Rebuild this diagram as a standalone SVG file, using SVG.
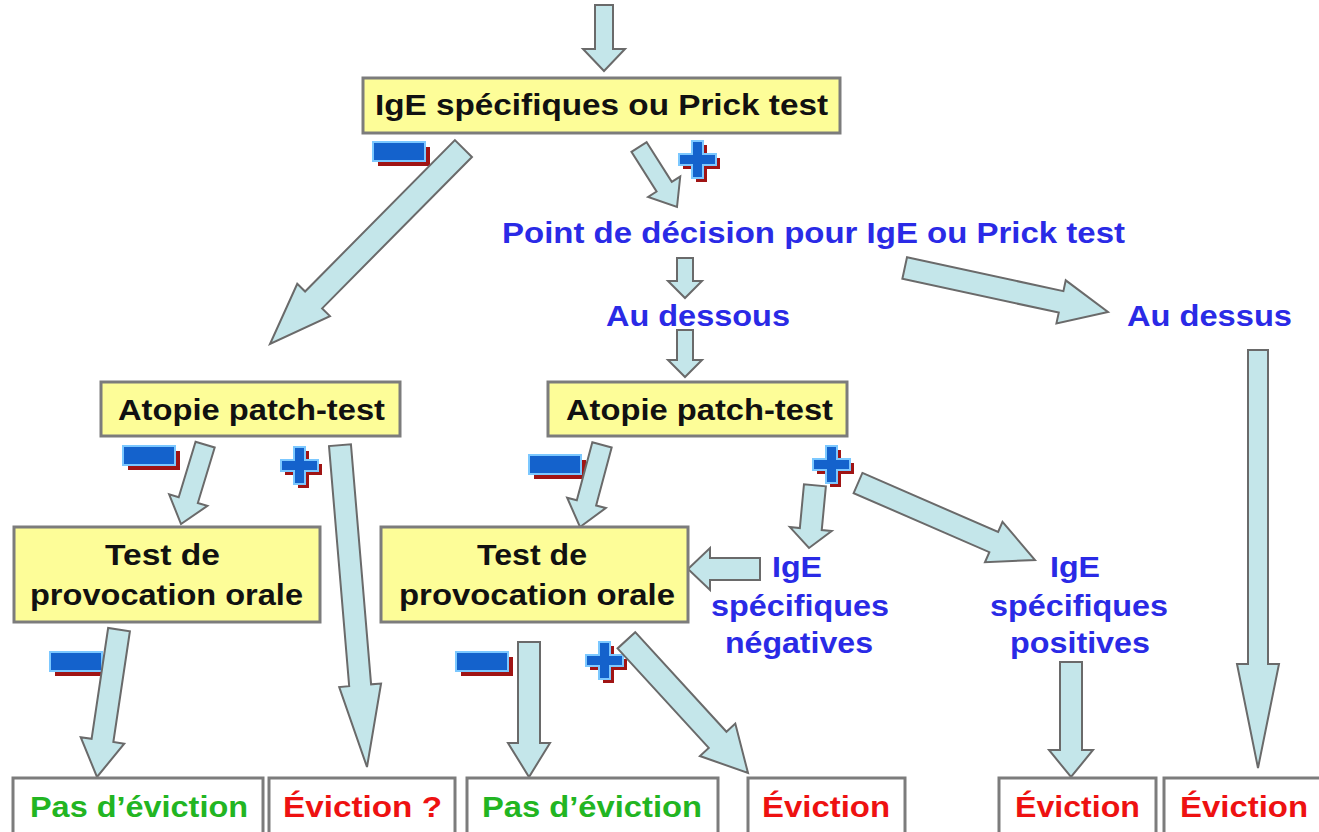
<svg xmlns="http://www.w3.org/2000/svg" xmlns:xlink="http://www.w3.org/1999/xlink" width="1319" height="832" viewBox="0 0 1319 832">
<style>
text{font-family:"Liberation Sans",Arial,sans-serif;font-weight:bold;font-size:29px}
.box{fill:#fdfd98;stroke:#7c7c7c;stroke-width:3}
.res{fill:#ffffff;stroke:#7c7c7c;stroke-width:3}
.k{fill:#111111}
.b{fill:#2a2ae6}
.g{fill:#22b522}
.r{fill:#ee1111}
.arr{fill:#c4e6ea;stroke:#6a6a6a;stroke-width:2;stroke-linejoin:miter}
</style>
<defs>
<g id="minus">
<rect x="5" y="5" width="52" height="19" fill="#a01414"/>
<rect x="0" y="0" width="52" height="19" fill="#1462cc" stroke="#7cc8ff" stroke-width="2"/>
</g>
<g id="plus">
<path d="M20 4h11v13h13v11h-13v13h-11v-13h-13v-11h13z" fill="#a01414"/>
<path d="M16 0h11v13h13v11h-13v13h-11v-13h-13v-11h13z" fill="#1462cc" stroke="#7cc8ff" stroke-width="2"/>
</g>
</defs>
<rect width="1319" height="832" fill="#ffffff"/>

<g id="signs">
<use xlink:href="#minus" x="373" y="142"/>
<use xlink:href="#plus" x="676" y="141"/>
<use xlink:href="#minus" x="123" y="446"/>
<use xlink:href="#plus" x="278" y="447"/>
<use xlink:href="#minus" x="529" y="455"/>
<use xlink:href="#plus" x="810" y="446"/>
<use xlink:href="#minus" x="50" y="652"/>
<use xlink:href="#minus" x="456" y="652"/>
<use xlink:href="#plus" x="583" y="642"/>
</g>

<g id="connectors">
<polygon class="arr" transform="translate(604,71) rotate(90)" points="-66,-9 -22,-9 -22,-21 0,0 -22,21 -22,9 -66,9"/>
<polygon class="arr" transform="translate(270,344) rotate(134.7)" points="-275,-12 -62,-12 -62,-23 0,0 -62,23 -62,12 -275,12"/>
<polygon class="arr" transform="translate(677,207) rotate(57.7)" points="-71,-9 -24,-9 -24,-19 0,0 -24,19 -24,9 -71,9"/>
<polygon class="arr" transform="translate(685,298) rotate(90)" points="-40,-8 -17,-8 -17,-17 0,0 -17,17 -17,8 -40,8"/>
<polygon class="arr" transform="translate(685,377) rotate(90)" points="-47,-8 -17,-8 -17,-17 0,0 -17,17 -17,8 -47,8"/>
<polygon class="arr" transform="translate(1108,312) rotate(12.2)" points="-208,-11 -48,-11 -48,-22 0,0 -48,22 -48,11 -208,11"/>
<polygon class="arr" transform="translate(1258,768) rotate(90)" points="-418,-10 -104,-10 -104,-21 0,0 -104,21 -104,10 -418,10"/>
<polygon class="arr" transform="translate(181,524) rotate(106.9)" points="-83,-10 -25,-10 -25,-20 0,0 -25,20 -25,10 -83,10"/>
<polygon class="arr" transform="translate(367,767) rotate(85.2)" points="-323,-11 -82,-11 -82,-21 0,0 -82,21 -82,11 -323,11"/>
<polygon class="arr" transform="translate(580,527) rotate(105)" points="-85,-10 -25,-10 -25,-20 0,0 -25,20 -25,10 -85,10"/>
<polygon class="arr" transform="translate(809,548) rotate(95.4)" points="-63,-11 -19,-11 -19,-21 0,0 -19,21 -19,11 -63,11"/>
<polygon class="arr" transform="translate(1035,560) rotate(23.5)" points="-193,-11 -45,-11 -45,-22 0,0 -45,22 -45,11 -193,11"/>
<polygon class="arr" transform="translate(688,569) rotate(180)" points="-72,-11 -22,-11 -22,-21 0,0 -22,21 -22,11 -72,11"/>
<polygon class="arr" transform="translate(97,777) rotate(98.5)" points="-149,-11 -37,-11 -37,-22 0,0 -37,22 -37,11 -149,11"/>
<polygon class="arr" transform="translate(529,777) rotate(90)" points="-135,-11 -34,-11 -34,-21 0,0 -34,21 -34,11 -135,11"/>
<polygon class="arr" transform="translate(748,773) rotate(47.5)" points="-180,-12 -45,-12 -45,-24 0,0 -45,24 -45,12 -180,12"/>
<polygon class="arr" transform="translate(1071,777) rotate(90)" points="-115,-11 -27,-11 -27,-22 0,0 -27,22 -27,11 -115,11"/>
</g>

<g id="n-ige">
<rect class="box" x="363" y="78" width="477" height="55"/>
<text class="k" x="375" y="115" textLength="453" lengthAdjust="spacingAndGlyphs">IgE spécifiques ou Prick test</text>
</g>
<g id="n-point">
<text class="b" x="502" y="243" font-size="30" textLength="623" lengthAdjust="spacingAndGlyphs">Point de décision pour IgE ou Prick test</text>
</g>
<g id="n-dessous">
<text class="b" x="606" y="326" font-size="30" textLength="184" lengthAdjust="spacingAndGlyphs">Au dessous</text>
</g>
<g id="n-dessus">
<text class="b" x="1127" y="326" font-size="30" textLength="165" lengthAdjust="spacingAndGlyphs">Au dessus</text>
</g>
<g id="n-atopie1">
<rect class="box" x="101" y="382" width="299" height="54"/>
<text class="k" x="118" y="420" textLength="267" lengthAdjust="spacingAndGlyphs">Atopie patch-test</text>
</g>
<g id="n-atopie2">
<rect class="box" x="548" y="382" width="299" height="54"/>
<text class="k" x="566" y="420" textLength="267" lengthAdjust="spacingAndGlyphs">Atopie patch-test</text>
</g>
<g id="n-tpo1">
<rect class="box" x="14" y="527" width="306" height="95"/>
<text class="k" x="105" y="565" textLength="115" lengthAdjust="spacingAndGlyphs">Test de</text>
<text class="k" x="30" y="605" textLength="273" lengthAdjust="spacingAndGlyphs">provocation orale</text>
</g>
<g id="n-tpo2">
<rect class="box" x="381" y="527" width="307" height="95"/>
<text class="k" x="477" y="565" textLength="110" lengthAdjust="spacingAndGlyphs">Test de</text>
<text class="k" x="399" y="605" textLength="276" lengthAdjust="spacingAndGlyphs">provocation orale</text>
</g>
<g id="n-neg">
<text class="b" x="772" y="577" textLength="50" lengthAdjust="spacingAndGlyphs">IgE</text>
<text class="b" x="711" y="616" textLength="178" lengthAdjust="spacingAndGlyphs">spécifiques</text>
<text class="b" x="725" y="653" textLength="148" lengthAdjust="spacingAndGlyphs">négatives</text>
</g>
<g id="n-pos">
<text class="b" x="1050" y="577" textLength="50" lengthAdjust="spacingAndGlyphs">IgE</text>
<text class="b" x="990" y="616" textLength="178" lengthAdjust="spacingAndGlyphs">spécifiques</text>
<text class="b" x="1010" y="653" textLength="140" lengthAdjust="spacingAndGlyphs">positives</text>
</g>
<g id="r1">
<rect class="res" x="13" y="778" width="250" height="60"/>
<text class="g" x="30" y="817" textLength="218" lengthAdjust="spacingAndGlyphs">Pas d’éviction</text>
</g>
<g id="r2">
<rect class="res" x="269" y="778" width="186" height="60"/>
<text class="r" x="283" y="817" textLength="159" lengthAdjust="spacingAndGlyphs">Éviction ?</text>
</g>
<g id="r3">
<rect class="res" x="467" y="778" width="251" height="60"/>
<text class="g" x="482" y="817" textLength="220" lengthAdjust="spacingAndGlyphs">Pas d’éviction</text>
</g>
<g id="r4">
<rect class="res" x="748" y="778" width="157" height="60"/>
<text class="r" x="762" y="817" textLength="128" lengthAdjust="spacingAndGlyphs">Éviction</text>
</g>
<g id="r5">
<rect class="res" x="999" y="778" width="157" height="60"/>
<text class="r" x="1015" y="817" textLength="125" lengthAdjust="spacingAndGlyphs">Éviction</text>
</g>
<g id="r6">
<rect class="res" x="1164" y="778" width="160" height="60"/>
<text class="r" x="1180" y="817" textLength="128" lengthAdjust="spacingAndGlyphs">Éviction</text>
</g>
</svg>
